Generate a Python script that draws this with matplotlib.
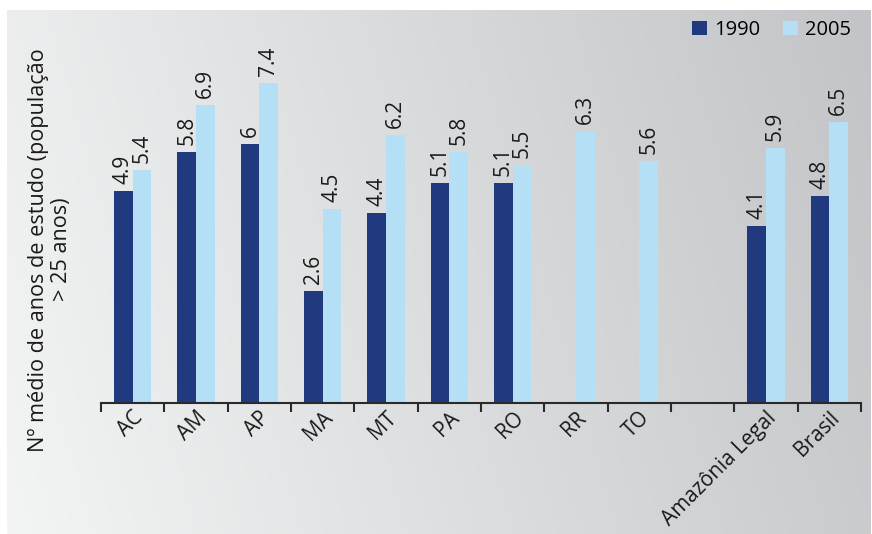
import numpy as np
import matplotlib.pyplot as plt
from matplotlib.colors import LinearSegmentedColormap

# ==========================================
# DATA
# ==========================================
categories = ["AC", "AM", "AP", "MA", "MT", "PA", "RO", "RR", "TO", "",
              "Amazônia Legal", "Brasil"]
values_1990 = [4.9, 5.8, 6, 2.6, 4.4, 5.1, 5.1, None, None, None, 4.1, 4.8]
values_2005 = [5.4, 6.9, 7.4, 4.5, 6.2, 5.8, 5.5, 6.3, 5.6, None, 5.9, 6.5]
series_names = ["1990", "2005"]

ylabel = "Nº médio de anos de estudo (população\n> 25 anos)"

DARK = "#213a7f"
LIGHT = "#b5dff5"
TXT = "#1a1a1a"

plt.rcParams["font.family"] = ["Open Sans", "DejaVu Sans"]

# ==========================================
# FIGURE + GRADIENT PANEL
# ==========================================
W, H = 872, 534
fig = plt.figure(figsize=(W / 100, H / 100), dpi=100)
fig.patch.set_facecolor("white")

bg = fig.add_axes([7 / W, 0, (870 - 7) / W, 524 / H])
bg.set_axis_off()
xx, yy = np.meshgrid(np.linspace(0, 1, 300), np.linspace(1, 0, 200))
grad = 0.85 * xx + 0.15 * yy
cmap = LinearSegmentedColormap.from_list("bg", ["#f3f4f4", "#c3c4c7"])
bg.imshow(grad, cmap=cmap, aspect="auto", extent=[0, 1, 0, 1], vmin=0, vmax=1)

# ==========================================
# BAR CHART
# ==========================================
left, right = 101, 861
bottom, top = 403, 10
ax = fig.add_axes([left / W, (H - bottom) / H, (right - left) / W, (bottom - top) / H])
ax.patch.set_alpha(0)

x = np.arange(len(categories))
w = 0.295
v1 = np.array([np.nan if v is None else v for v in values_1990], dtype=float)
v2 = np.array([np.nan if v is None else v for v in values_2005], dtype=float)

ax.bar(x - w / 2, v1, w, color=DARK, label=series_names[0])
ax.bar(x + w / 2, v2, w, color=LIGHT, label=series_names[1])

for xs, vals in [(x - w / 2, v1), (x + w / 2, v2)]:
    for xi, v in zip(xs, vals):
        if np.isnan(v):
            continue
        ax.annotate(f"{v:g}", (xi, v), xytext=(0, 5), textcoords="offset points",
                    rotation=90, ha="center", va="bottom", fontsize=15,
                    color=TXT)

ax.set_xlim(-0.5, len(categories) - 0.5)
ax.set_ylim(0, (bottom - top) / 43.2)

for s in ["top", "right", "left"]:
    ax.spines[s].set_visible(False)
ax.spines["bottom"].set_color("#2a2a2a")
ax.spines["bottom"].set_linewidth(1.5)
ax.set_yticks([])

# boundary ticks (major) + labels at centers (minor)
ax.set_xticks(np.arange(len(categories) + 1) - 0.5)
ax.set_xticklabels([])
ax.tick_params(axis="x", which="major", length=6.5, width=1.5, color="#2a2a2a")
ax.set_xticks(x, minor=True)
ax.set_xticklabels(categories, minor=True, rotation=45, ha="right",
                   rotation_mode="anchor", fontsize=15, color=TXT)
ax.tick_params(axis="x", which="minor", length=0, pad=3)

ax.text(-0.067, 0.39, ylabel, transform=ax.transAxes, rotation=90,
        ha="center", va="center", multialignment="center", fontsize=15.6,
        color=TXT, linespacing=1.1)

ax.legend(loc="upper right", bbox_to_anchor=(851 / W, (H - 20) / H),
          bbox_transform=fig.transFigure, ncol=2, frameon=False,
          fontsize=14.5, handlelength=0.75, handleheight=0.7,
          handletextpad=0.36, columnspacing=1.1, borderaxespad=0,
          borderpad=0)

fig.savefig("out.png", dpi=100)
